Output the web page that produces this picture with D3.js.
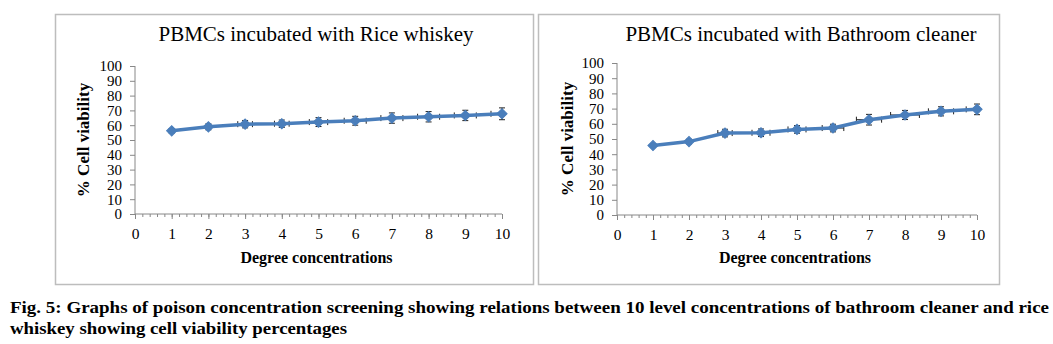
<!DOCTYPE html>
<html>
<head>
<meta charset="utf-8">
<script src="https://cdn.jsdelivr.net/npm/d3@7"></script>
<style>
    body { margin: 0; background: #fff; }
    svg { display: block; }
    text { font-family: "Liberation Serif", "Times New Roman", serif; fill: #000; }
</style>
</head>
<body>
<svg width="1053" height="344"></svg>
<script>
// Chart data
const concentrations = [1, 2, 3, 4, 5, 6, 7, 8, 9, 10];
const riceWhiskey = [56.2, 58.9, 60.7, 61, 62.1, 63, 64.8, 65.7, 66.6, 67.7];
const riceWhiskeyErr = [1.5, 2, 2.5, 2.5, 3, 3, 3.5, 3.5, 3.5, 4];
const riceWhiskeyXErr = [0, 0, 0.2, 0.2, 0.25, 0.3, 0.3, 0.3, 0.3, 0.3];
const bathroomCleaner = [45.7, 48.3, 53.9, 54.1, 56.3, 57.2, 62.7, 65.8, 68.2, 69.5];
const bathroomCleanerErr = [1, 1.5, 2.5, 2.5, 2.5, 2.5, 3.5, 3, 3, 3.5];
const bathroomCleanerXErr = [0, 0, 0.2, 0.25, 0.25, 0.3, 0.35, 0.4, 0.35, 0.3];
const xTicks = [0, 1, 2, 3, 4, 5, 6, 7, 8, 9, 10];
const yTicks = [0, 10, 20, 30, 40, 50, 60, 70, 80, 90, 100];
const titles = ["PBMCs incubated with Rice whiskey", "PBMCs incubated with Bathroom cleaner"];
const captionLines = [
    "Fig. 5: Graphs of poison concentration screening showing relations between 10 level concentrations of bathroom cleaner and rice",
    "whiskey showing cell viability percentages"
];

const svg = d3.select("svg");
const lineColor = "#4a7ebb";

// Draw one panel
function drawPanel(p, id) {
    const g = svg.append("g");

    g.append("rect")
        .attr("x", p.box[0] + 0.5).attr("y", p.box[1] + 0.5)
        .attr("width", p.box[2]).attr("height", p.box[3])
        .attr("fill", "none").attr("stroke", "#bdbdbd").attr("stroke-width", 1.5);

    const x = d3.scaleLinear().domain([0, 10]).range([p.left, p.right]);
    const y = d3.scaleLinear().domain([0, 100]).range([p.bottom, p.top]);

    // error bars are clipped near the plot area, like in Excel
    g.append("clipPath").attr("id", "clip" + id)
        .append("rect")
        .attr("x", p.left).attr("y", p.top - 5)
        .attr("width", p.right - p.left + 4).attr("height", p.bottom - p.top + 5);

    // minor ticks on x axis
    g.append("g")
        .attr("transform", `translate(0,${p.bottom})`)
        .call(d3.axisBottom(x).tickValues(d3.range(0, 10.01, 0.2)).tickSize(3).tickFormat(""))
        .call(a => a.select(".domain").remove())
        .selectAll("line").attr("stroke", "#888");

    const xAxis = g.append("g")
        .attr("transform", `translate(0,${p.bottom})`)
        .call(d3.axisBottom(x).tickValues(xTicks).tickSize(5).tickPadding(9).tickFormat(d3.format("d")))
        .attr("font-family", null).attr("font-size", null);
    xAxis.select(".domain").attr("stroke", "#888").attr("d", `M${p.left},0H${p.right}`);
    xAxis.selectAll("line").attr("stroke", "#888");
    xAxis.selectAll("text").style("font-size", "15.5px");

    const yAxis = g.append("g")
        .attr("transform", `translate(${p.left},0)`)
        .call(d3.axisLeft(y).tickValues(yTicks).tickSize(5).tickPadding(8))
        .attr("font-family", null).attr("font-size", null);
    yAxis.select(".domain").attr("stroke", "#888").attr("d", `M0,${p.bottom}V${p.top}`);
    yAxis.selectAll("line").attr("stroke", "#888");
    yAxis.selectAll("text").style("font-size", "15px").attr("dy", "0.33em");

    // error bars
    const eb = g.append("g").attr("stroke", "#222").attr("stroke-width", 1)
        .attr("clip-path", `url(#clip${id})`);
    concentrations.forEach((c, i) => {
        const cx = x(c), cy = y(p.values[i]);
        const e = p.errors[i], xe = p.xErrors[i];
        eb.append("line").attr("x1", cx).attr("x2", cx).attr("y1", y(p.values[i] + e)).attr("y2", y(p.values[i] - e));
        eb.append("line").attr("x1", cx - 3).attr("x2", cx + 3).attr("y1", y(p.values[i] + e)).attr("y2", y(p.values[i] + e));
        eb.append("line").attr("x1", cx - 3).attr("x2", cx + 3).attr("y1", y(p.values[i] - e)).attr("y2", y(p.values[i] - e));
        if (xe > 0) {
            eb.append("line").attr("x1", x(c - xe)).attr("x2", x(c + xe)).attr("y1", cy).attr("y2", cy);
            eb.append("line").attr("x1", x(c - xe)).attr("x2", x(c - xe)).attr("y1", cy - 3).attr("y2", cy + 3);
            eb.append("line").attr("x1", x(c + xe)).attr("x2", x(c + xe)).attr("y1", cy - 3).attr("y2", cy + 3);
        }
    });

    const line = d3.line().x((d, i) => x(concentrations[i])).y(d => y(d));
    g.append("path")
        .datum(p.values)
        .attr("d", line)
        .attr("fill", "none")
        .attr("stroke", lineColor)
        .attr("stroke-width", 3.5)
        .attr("stroke-linejoin", "round");

    // diamond markers (rotated squares)
    g.selectAll(".marker")
        .data(p.values)
        .join("path")
        .attr("class", "marker")
        .attr("transform", (d, i) => `translate(${x(concentrations[i])},${y(d)}) rotate(45)`)
        .attr("d", d3.symbol(d3.symbolSquare, 52))
        .attr("fill", lineColor)
        .attr("stroke", lineColor)
        .attr("stroke-width", 1);

    g.append("text")
        .attr("x", p.titleX).attr("y", 41)
        .attr("text-anchor", "middle")
        .style("font-size", "21px")
        .text(p.title);

    g.append("text")
        .attr("x", (p.left + p.right) / 2 - 2).attr("y", 263)
        .attr("text-anchor", "middle")
        .style("font-size", "16px").style("font-weight", "bold")
        .text("Degree concentrations");

    g.append("text")
        .attr("transform", `translate(${p.yTitleX},${(p.top + p.bottom) / 2}) rotate(-90)`)
        .attr("text-anchor", "middle")
        .style("font-size", "17px").style("font-weight", "bold")
        .text("% Cell viability");
}

drawPanel({
    box: [55, 14, 478, 270],
    left: 135, right: 502, top: 66, bottom: 214,
    values: riceWhiskey, errors: riceWhiskeyErr, xErrors: riceWhiskeyXErr,
    title: titles[0], titleX: 316, yTitleX: 89
}, 1);

drawPanel({
    box: [538, 14, 461, 270],
    left: 617, right: 977, top: 63, bottom: 215,
    values: bathroomCleaner, errors: bathroomCleanerErr, xErrors: bathroomCleanerXErr,
    title: titles[1], titleX: 801, yTitleX: 573
}, 2);

// Figure caption
const captionWidths = [1039, 337];
svg.selectAll(".caption")
    .data(captionLines)
    .join("text")
    .attr("class", "caption")
    .attr("x", 10)
    .attr("y", (d, i) => 313 + i * 21)
    .attr("textLength", (d, i) => captionWidths[i])
    .attr("lengthAdjust", "spacingAndGlyphs")
    .style("font-size", "17px").style("font-weight", "bold")
    .text(d => d);
</script>
</body>
</html>
